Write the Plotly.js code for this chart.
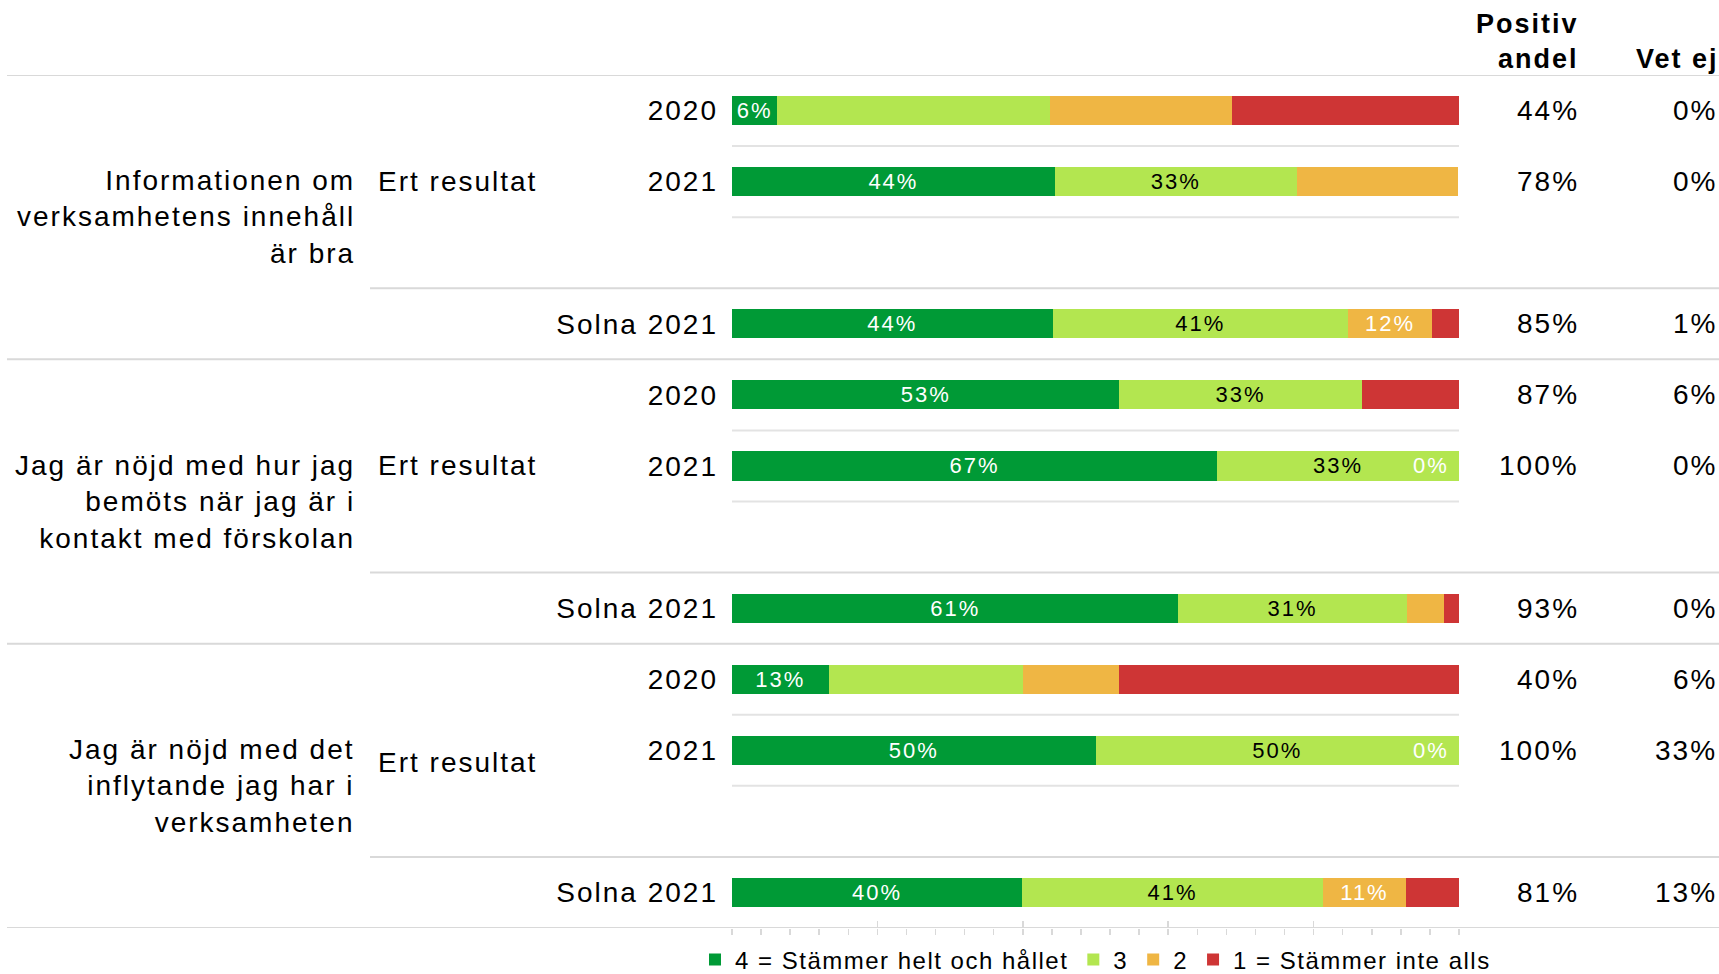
<!DOCTYPE html>
<html>
<head>
<meta charset="utf-8">
<script src="https://cdn.plot.ly/plotly-3.0.1.min.js"></script>
<style>
html,body{margin:0;padding:0;background:#fff;overflow:hidden}
#chart{width:1719px;height:974px}
text{letter-spacing:2px}
text.legendtext{letter-spacing:1.5px}
</style>
</head>
<body>
<div id="chart"></div>
<script>
// ---------- data ----------
const questions = [
  'Informationen om<br>verksamhetens innehåll<br>är bra',
  'Jag är nöjd med hur jag<br>bemöts när jag är i<br>kontakt med förskolan',
  'Jag är nöjd med det<br>inflytande jag har i<br>verksamheten'
];
const groupLabel = 'Ert resultat';
const rowLabels = ['2020','2021','Solna 2021','2020','2021','Solna 2021','2020','2021','Solna 2021'];
const rowSlots  = [0, 1, 3, 4, 5, 7, 8, 9, 11];
const seriesNames = ['4 = Stämmer helt och hållet', '3', '2', '1 = Stämmer inte alls'];
const s4 = [6.25, 44.4, 44.1, 53.3, 66.7, 61.4, 13.3, 50.0, 39.9];
const s3 = [37.5, 33.3, 40.6, 33.3, 33.3, 31.4, 26.7, 50.0, 41.4];
const s2 = [25.0, 22.2, 11.6, 0.0, 0.0, 5.1, 13.3, 0.0, 11.4];
const s1 = [31.25, 0.0, 3.7, 13.4, 0.0, 2.1, 46.7, 0.0, 7.3];
// which segment values carry a visible label
const show4 = [1,1,1,1,1,1,1,1,1];
const show3 = [0,1,1,1,1,1,0,1,1];
const show2 = [0,0,1,0,1,0,0,1,1];
const show1 = [0,0,0,0,0,0,0,0,0];
const positive = [44, 78, 85, 87, 100, 93, 40, 100, 81];
const vetEj    = [0, 0, 1, 6, 0, 0, 6, 33, 13];
const headers  = ['Positiv<br>andel', 'Vet ej'];

// ---------- style ----------
const FONT = 'Liberation Sans, Arial, sans-serif';
const colors = ['#009A36', '#B3E650', '#EFB644', '#CE3535'];
const textColors = ['#ffffff', '#000000', '#ffffff', '#ffffff'];
const W = 1719, H = 974;
const L = 732, R = 1459, T = 74.5, B = 927.6;
const px2x = px => (px - L) / (R - L);
const px2y = py => (B - py) / (B - T);

const series = [s4, s3, s2, s1];
const shows = [show4, show3, show2, show1];

const traces = series.map((vals, i) => ({
  type: 'bar', orientation: 'h', name: seriesNames[i],
  x: vals, y: rowSlots, width: 0.41,
  marker: {color: colors[i], line: {width: 0}},
  text: vals.map((v, j) => (shows[i][j] && v > 0) ? Math.round(v) + '%' : ''),
  textposition: 'inside', insidetextanchor: 'middle',
  textfont: {family: FONT, size: 22, color: textColors[i]},
  constraintext: 'none', hoverinfo: 'skip'
}));
// empty helper trace so the overlaid tick axis (major ticks) exists
traces.push({type: 'scatter', mode: 'markers', x: [], y: [], xaxis: 'x2', yaxis: 'y',
  showlegend: false, hoverinfo: 'skip'});

// ---------- annotations ----------
const ann = [];
questions.forEach((q, g) => {
  ann.push({xref: 'paper', yref: 'y', x: px2x(357), y: 4 * g + 1.5, text: q,
    xanchor: 'right', yanchor: 'middle', align: 'right', showarrow: false,
    font: {family: FONT, size: 28, color: '#000'}});
  ann.push({xref: 'paper', yref: 'y', x: px2x(376), y: 4 * g + 1 + (g === 2 ? 0.17 : 0), text: groupLabel,
    xanchor: 'left', yanchor: 'middle', align: 'left', showarrow: false,
    font: {family: FONT, size: 28, color: '#000'}});
});
// labelled zero-width segments ("0%") at the segment's end position
s2.forEach((v, j) => {
  if (show2[j] && v === 0) {
    ann.push({xref: 'x', yref: 'y', x: s4[j] + s3[j] + s2[j], y: rowSlots[j],
      text: Math.round(v) + '%', xanchor: 'right', yanchor: 'middle', xshift: -8,
      showarrow: false, font: {family: FONT, size: 22, color: '#ffffff'}});
  }
});
positive.forEach((v, j) => ann.push({xref: 'paper', yref: 'y', x: px2x(1581), y: rowSlots[j],
  text: v + '%', xanchor: 'right', yanchor: 'middle', showarrow: false,
  font: {family: FONT, size: 28, color: '#000'}}));
vetEj.forEach((v, j) => ann.push({xref: 'paper', yref: 'y', x: px2x(1719), y: rowSlots[j],
  text: v + '%', xanchor: 'right', yanchor: 'middle', showarrow: false,
  font: {family: FONT, size: 28, color: '#000'}}));
ann.push({xref: 'paper', yref: 'paper', x: px2x(1581), y: px2y(76), text: '<b>' + headers[0] + '</b>',
  xanchor: 'right', yanchor: 'bottom', align: 'right', showarrow: false,
  font: {family: FONT, size: 27, color: '#000'}});
ann.push({xref: 'paper', yref: 'paper', x: px2x(1721), y: px2y(76), text: '<b>' + headers[1] + '</b>',
  xanchor: 'right', yanchor: 'bottom', align: 'right', showarrow: false,
  font: {family: FONT, size: 27, color: '#000'}});

// ---------- separator rules ----------
const ruleLine = {color: '#D9D9D9', width: 2};
const shapes = [];
[-0.5, 3.5, 7.5, 11.5].forEach(y => shapes.push({type: 'line', xref: 'paper', yref: 'y',
  x0: px2x(7), x1: px2x(W), y0: y, y1: y, line: ruleLine, layer: 'below'}));
[2.5, 6.5, 10.5].forEach(y => shapes.push({type: 'line', xref: 'paper', yref: 'y',
  x0: px2x(370), x1: px2x(W), y0: y, y1: y, line: ruleLine, layer: 'below'}));
[0.5, 1.5, 4.5, 5.5, 8.5, 9.5].forEach(y => shapes.push({type: 'line', xref: 'paper', yref: 'y',
  x0: 0, x1: 1, y0: y, y1: y, line: {color: '#E3E3E3', width: 2}, layer: 'below'}));

const layout = {
  width: W, height: H,
  margin: {l: L, r: W - R, t: T, b: H - B, autoexpand: false},
  paper_bgcolor: '#fff', plot_bgcolor: '#fff',
  barmode: 'stack',
  font: {family: FONT, size: 28, color: '#000'},
  xaxis: {range: [0, 100], showgrid: false, zeroline: false, showline: false,
    showticklabels: false, ticks: 'outside', tick0: 0, dtick: 4, ticklen: 6,
    tickwidth: 1.5, tickcolor: '#D9D9D9', fixedrange: true},
  xaxis2: {range: [0, 100], overlaying: 'x', anchor: 'y', side: 'bottom',
    showgrid: false, zeroline: false, showline: false, showticklabels: false,
    ticks: 'inside', tick0: 0, dtick: 20, ticklen: 7, tickwidth: 1.5,
    tickcolor: '#D9D9D9', fixedrange: true},
  yaxis: {range: [11.5, -0.5], tickvals: rowSlots, ticktext: rowLabels,
    showgrid: false, zeroline: false, showline: false, ticks: '',
    ticklabelstandoff: 13, tickfont: {family: FONT, size: 28, color: '#000'},
    fixedrange: true},
  showlegend: true,
  legend: {orientation: 'h', x: px2x(695), xanchor: 'left',
    y: px2y(937), yanchor: 'top', traceorder: 'normal',
    font: {family: FONT, size: 24, color: '#000'}, bgcolor: 'rgba(0,0,0,0)',
    itemclick: false, itemdoubleclick: false},
  annotations: ann,
  shapes: shapes,
  hovermode: false
};

Plotly.newPlot('chart', traces, layout, {displayModeBar: false, staticPlot: true});
</script>
</body>
</html>
